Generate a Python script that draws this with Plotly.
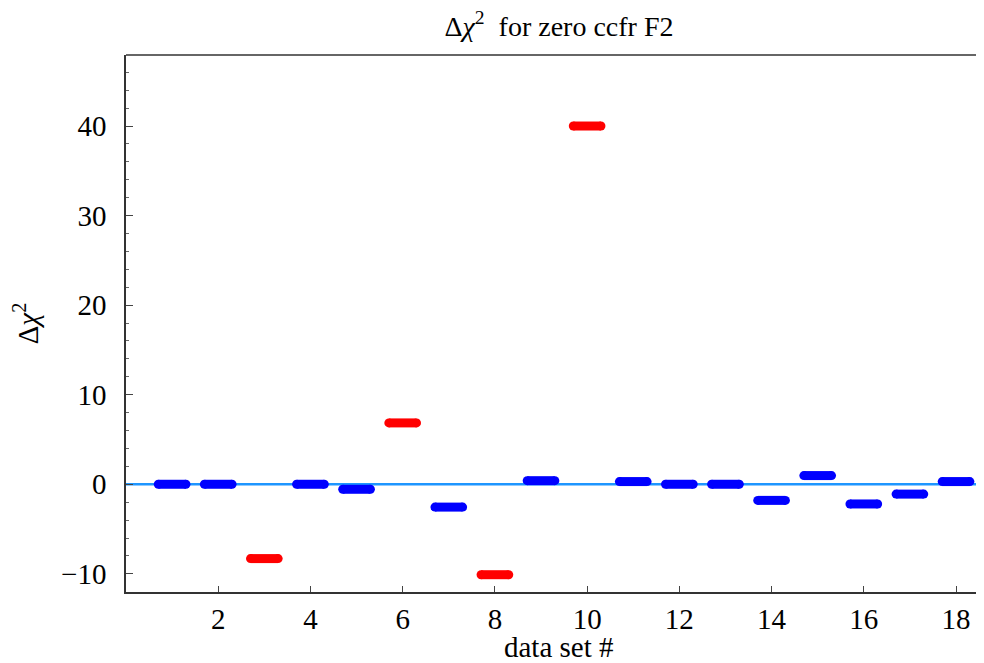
import plotly.graph_objects as go

# data
data_sets = list(range(1, 19))
delta_chi2 = [0.0, 0.0, -8.3, 0.0, -0.56, 6.85, -2.55, -10.1, 0.4,
              40.0, 0.3, 0.0, 0.0, -1.8, 0.97, -2.2, -1.1, 0.3]
highlight = [False, False, True, False, False, True, False, True, False,
             True, False, False, False, False, False, False, False, False]
x_ticks = [2, 4, 6, 8, 10, 12, 14, 16, 18]
y_ticks = [-10, 0, 10, 20, 30, 40]
half_width = 0.3
x_range = [0, 18.78]
y_range = [-12.03, 47.93]

FONT = "Liberation Serif, DejaVu Serif, serif"
fig = go.Figure()

# zero line
fig.add_trace(go.Scatter(x=x_range, y=[0, 0], mode="lines",
                         line=dict(color="rgb(30,150,255)", width=2.5),
                         hoverinfo="skip", showlegend=False))

for xi, yi, hi in zip(data_sets, delta_chi2, highlight):
    col = "#ff0000" if hi else "#0000ff"
    fig.add_trace(go.Scatter(
        x=[xi - half_width, xi + half_width], y=[yi, yi],
        mode="lines+markers",
        line=dict(color=col, width=9),
        marker=dict(color=col, size=9, symbol="circle", line=dict(width=0)),
        showlegend=False))

fig.update_layout(
    width=984, height=663, autosize=False,
    margin=dict(l=118, r=0, t=47, b=79, autoexpand=False),
    paper_bgcolor="white", plot_bgcolor="white",
    font=dict(family=FONT, color="black", size=29),
    title=dict(text="Δ<i>χ</i><sup>2</sup>  for zero ccfr F2",
               x=0.5, xref="paper", xanchor="center",
               y=1 - 18 / 663, yanchor="middle",
               font=dict(family=FONT, size=28, color="black")),
    xaxis=dict(range=x_range, tickvals=x_ticks, ticks="inside",
               ticklen=6, tickcolor="#444", tickwidth=1,
               showline=True, linecolor="#333", linewidth=1.5,
               showgrid=False, zeroline=False, automargin=False,
               tickfont=dict(family=FONT, size=29)),
    yaxis=dict(range=y_range, tickvals=y_ticks, ticks="inside",
               ticklen=7, tickcolor="#444", tickwidth=1,
               ticklabelstandoff=12,
               minor=dict(dtick=2, tick0=0, ticks="inside", ticklen=3,
                          tickcolor="#666"),
               showline=True, linecolor="#333", linewidth=1.5,
               showgrid=False, zeroline=False, automargin=False,
               tickfont=dict(family=FONT, size=29),
               title=dict(text="Δ<i>χ</i><sup>2</sup>", standoff=14,
                          font=dict(family=FONT, size=29))),
    annotations=[dict(text="data set #", xref="paper", yref="paper",
                      x=0.5, y=-55 / 537, xanchor="center", yanchor="middle",
                      showarrow=False, font=dict(family=FONT, size=29))],
    shapes=[dict(type="line", xref="paper", yref="paper", x0=0, x1=1,
                 y0=1, y1=1, line=dict(color="#333", width=1.5))],
)

fig.write_html("out.html", config={"responsive": False})
